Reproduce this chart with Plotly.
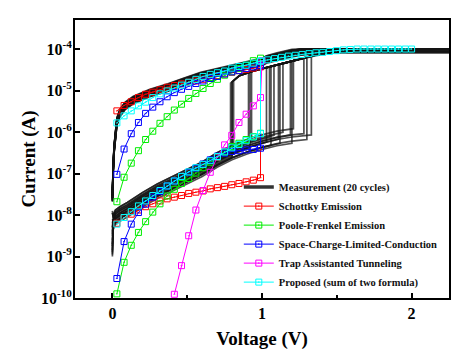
import numpy as np
import plotly.graph_objects as go

# ---------------- data (log10 of current in A) ----------------
# model voltage grid (V)
MODEL_V = [0.030, 0.078, 0.126, 0.174, 0.222, 0.270, 0.318, 0.366, 0.414, 0.462,
           0.510, 0.558, 0.606, 0.654, 0.702, 0.750, 0.798, 0.846, 0.894, 0.942, 0.990]

SCHOTTKY_HRS = [-8.20, -8.06, -7.98, -7.88, -7.80, -7.73, -7.66, -7.61, -7.57, -7.53,
                -7.48, -7.45, -7.42, -7.37, -7.34, -7.31, -7.27, -7.24, -7.20, -7.16, -7.10]
SCHOTTKY_LRS = [-5.49, -5.36, -5.27, -5.17, -5.09, -5.04, -4.98, -4.92, -4.88, -4.84,
                -4.80, -4.77, -4.73, -4.69, -4.64, -4.60, -4.56, -4.52, -4.49, -4.46, -4.43]

PF_HRS = [-9.90, -9.14, -8.73, -8.42, -8.16, -7.93, -7.73, -7.54, -7.38, -7.24,
          -7.12, -6.99, -6.86, -6.73, -6.61, -6.48, -6.35, -6.27, -6.18, -6.11, -6.03]
PF_LRS = [-7.68, -7.09, -6.75, -6.45, -6.18, -5.98, -5.79, -5.63, -5.47, -5.33,
          -5.19, -5.07, -4.95, -4.83, -4.73, -4.63, -4.55, -4.47, -4.39, -4.28, -4.22]

SCLC_HRS = [-9.53, -8.64, -8.22, -7.94, -7.74, -7.57, -7.43, -7.30, -7.18, -7.07,
            -6.97, -6.87, -6.77, -6.67, -6.58, -6.51, -6.47, -6.45, -6.43, -6.42, -6.39]
SCLC_LRS = [-7.02, -6.41, -6.04, -5.77, -5.55, -5.40, -5.27, -5.15, -5.05, -4.97,
            -4.90, -4.83, -4.77, -4.71, -4.66, -4.60, -4.55, -4.52, -4.47, -4.43, -4.40]

TAT_V = [0.414, 0.462, 0.510, 0.558, 0.606, 0.654, 0.702, 0.750, 0.798, 0.846, 0.894, 0.942, 0.990]
TAT_HRS = [-9.91, -9.22, -8.50, -7.88, -7.41, -6.97, -6.60, -6.31, -6.08, -5.77, -5.57, -5.37, -5.17]
TAT_LRS_V = [1.0]
TAT_LRS = [-4.28]

PROP_HRS = [-8.22, -8.06, -7.92, -7.78, -7.66, -7.53, -7.41, -7.30, -7.18, -7.07,
            -6.96, -6.86, -6.78, -6.69, -6.59, -6.48, -6.38, -6.30, -6.21, -6.12, -6.04]
PROP_LRS = [-5.78, -5.61, -5.49, -5.37, -5.28, -5.17, -5.08, -5.01, -4.94, -4.87,
            -4.80, -4.73, -4.66, -4.61, -4.57, -4.53, -4.46, -4.42, -4.39, -4.34, -4.29]
PROP_EXT_V = [0.990, 1.038, 1.084, 1.130, 1.176, 1.222, 1.268, 1.314, 1.360, 1.406, 1.452,
              1.498, 1.544, 1.590, 1.636, 1.682, 1.728, 1.774, 1.820, 1.866, 1.912, 1.958, 2.000]
PROP_EXT = [-4.29, -4.26, -4.23, -4.20, -4.17, -4.15, -4.13, -4.11, -4.09, -4.08, -4.06,
            -4.04, -4.02, -4.01, -4.00, -4.00, -4.00, -4.00, -4.00, -4.00, -4.00, -4.00, -4.00]

# measurement: 20 cycles
HRS_V = [0.005, 0.02, 0.05, 0.1, 0.15, 0.2, 0.3, 0.4, 0.5, 0.6, 0.7, 0.8, 0.9, 1.0, 1.1, 1.2, 1.3]
HRS_BASE = [-8.20, -8.08, -8.00, -7.90, -7.78, -7.66, -7.45, -7.28, -7.10, -6.92, -6.70,
            -6.52, -6.38, -6.27, -6.18, -6.12, -6.08]
HRS_ZERO = [-8.10, -8.90, -7.95, -8.60, -8.30, -9.00, -8.00, -8.45, -8.20, -8.75,
            -7.90, -8.50, -8.85, -8.05, -8.30, -8.95, -7.95, -8.40, -8.70, -8.20]
HRS_OFF = [0.05, -0.08, 0.15, -0.05, 0.10, -0.02, 0.20, 0.00, 0.10, -0.10,
           0.12, 0.00, -0.10, 0.15, 0.05, -0.15, 0.20, 0.05, -0.10, 0.00]
SET_V = [0.79, 0.80, 0.81, 0.80, 0.91, 0.92, 0.93, 1.03, 1.05, 1.06,
         1.08, 1.11, 1.12, 1.14, 1.19, 1.20, 1.21, 1.28, 1.30, 1.33]
SET_LOW = [-6.49, -6.60, -6.36, -6.57, -6.27, -6.38, -6.15, -6.24, -6.13, -6.32,
           -6.08, -6.17, -6.27, -6.01, -6.07, -6.27, -5.92, -6.04, -6.18, -6.07]
SET_HIGH = [-4.82, -4.79, -4.76, -4.79, -4.56, -4.55, -4.54, -4.45, -4.43, -4.42,
            -4.40, -4.38, -4.37, -4.35, -4.30, -4.29, -4.28, -4.21, -4.20, -4.17]
SETB_V = [0.85, 0.95, 1.05, 1.15, 1.25, 1.35, 1.45, 1.55, 1.65, 2.3]
SETB = [-4.64, -4.52, -4.43, -4.34, -4.24, -4.15, -4.08, -4.03, -4.00, -4.00]
LRS_V = [0.0, 0.005, 0.011, 0.018, 0.03, 0.05, 0.085, 0.14, 0.25, 0.37, 0.47, 0.59,
         0.72, 0.86, 1.0, 1.03, 1.1, 1.2, 1.26, 1.35, 1.46, 1.6, 2.3]
LRS = [-7.59, -6.92, -6.43, -6.14, -5.75, -5.54, -5.37, -5.23, -5.06, -4.93, -4.80, -4.65,
       -4.53, -4.42, -4.31, -4.25, -4.18, -4.10, -4.06, -4.03, -4.00, -4.00, -4.00]
LRS_OFF = [0.0, 0.06, -0.07, 0.08, -0.03, 0.04, -0.08, 0.07, 0.01, -0.05,
           0.09, -0.01, 0.05, -0.09, 0.02, 0.0, -0.04, 0.06, -0.06, 0.02]

FONT = "Liberation Serif"

fig = go.Figure()

# ---- measurement cycles ----
hv = np.array(HRS_V)
hb = np.array(HRS_BASE)
sv = np.array(SETB_V)
sb = np.array(SETB)
lv = np.array(LRS_V)
lb = np.array(LRS)
for i in range(20):
    m = hv < SET_V[i]
    ms = sv > SET_V[i]
    x = [0.0] + list(hv[m]) + [SET_V[i], SET_V[i]] + list(sv[ms]) + list(lv[::-1])
    ylog = ([HRS_ZERO[i]] + list(hb[m] + HRS_OFF[i]) + [SET_LOW[i], SET_HIGH[i]] + list(sb[ms])
            + list(np.minimum(lb[::-1] + LRS_OFF[i], -4.0)))
    fig.add_trace(go.Scatter(x=x, y=10 ** np.array(ylog), mode="lines",
                             line=dict(color="rgba(20,20,20,0.75)", width=1.7),
                             showlegend=False, hoverinfo="skip"))
fig.add_trace(go.Scatter(x=[None], y=[None], mode="lines",
                         line=dict(color="#333333", width=3.5),
                         name="<b>Measurement (20 cycles)</b>"))


def model(name, hrs, lrs, color, xs=MODEL_V, lrs_x=None):
    lx = list(lrs_x) if lrs_x is not None else list(xs)[::-1]
    ly = list(lrs) if lrs_x is not None else list(lrs)[::-1]
    fig.add_trace(go.Scatter(
        x=list(xs) + lx, y=10 ** np.array(list(hrs) + ly),
        mode="lines+markers", name=name,
        line=dict(color=color, width=1),
        marker=dict(symbol="square-open-dot", size=6, color=color, line=dict(width=1, color=color))))


model("<b>Schottky Emission</b>", SCHOTTKY_HRS, SCHOTTKY_LRS, "#ff0000")
model("<b>Poole-Frenkel Emission</b>", PF_HRS, PF_LRS, "#00ee00")
model("<b>Space-Charge-Limited-Conduction</b>", SCLC_HRS, SCLC_LRS, "#0000ff")
model("<b>Trap Assistanted Tunneling</b>", TAT_HRS, TAT_LRS, "#ff00ff", xs=TAT_V, lrs_x=TAT_LRS_V)
model("<b>Proposed (sum of two formula)</b>", PROP_HRS, PROP_LRS, "#00ffff")
fig.add_trace(go.Scatter(x=PROP_EXT_V, y=10 ** np.array(PROP_EXT), mode="lines+markers",
                         showlegend=False, line=dict(color="#00ffff", width=1),
                         marker=dict(symbol="square-open-dot", size=6, color="#00ffff",
                                     line=dict(width=1, color="#00ffff"))))

yt = [1e-10, 1e-9, 1e-8, 1e-7, 1e-6, 1e-5, 1e-4]
ytxt = ["<b>10<sup>-10</sup></b>", "<b>10<sup>-9</sup></b>", "<b>10<sup>-8</sup></b>",
        "<b>10<sup>-7</sup></b>", "<b>10<sup>-6</sup></b>", "<b>10<sup>-5</sup></b>",
        "<b>10<sup>-4</sup></b>"]

fig.update_layout(
    width=466, height=360,
    margin=dict(l=75, r=17, t=20, b=62, autoexpand=False),
    paper_bgcolor="white", plot_bgcolor="white",
    font=dict(family=FONT, color="black"),
    showlegend=True,
    legend=dict(x=0.438, y=0.005, xanchor="left", yanchor="bottom", tracegroupgap=0,
                bgcolor="rgba(0,0,0,0)", borderwidth=0,
                font=dict(family=FONT, size=10.5, color="#111111")),
    xaxis=dict(range=[-0.25, 2.25], tickvals=[0, 1, 2], ticktext=["<b>0</b>", "<b>1</b>", "<b>2</b>"],
               ticks="inside", ticklen=5, tickwidth=1.5, tickcolor="black", automargin=False,
               minor=dict(dtick=0.5, tick0=0, ticks="inside", ticklen=3, tickwidth=1.5, tickcolor="black"),
               showline=True, linewidth=2, linecolor="black", mirror=True,
               showgrid=False, zeroline=False,
               tickfont=dict(family=FONT, size=16),
               title=dict(text="<b>Voltage (V)</b>", font=dict(family=FONT, size=19), standoff=10)),
    yaxis=dict(type="log", range=[-10, -3.3], tickvals=yt, ticktext=ytxt, automargin=False,
               ticks="inside", ticklen=5, tickwidth=1.5, tickcolor="black",
               ticklabelstandoff=-2,
               showline=True, linewidth=2, linecolor="black", mirror=True,
               showgrid=False, zeroline=False,
               tickfont=dict(family=FONT, size=16),
               title=dict(text="<b>Current (A)</b>", font=dict(family=FONT, size=19), standoff=0)),
)

fig.write_html("out.html", post_script="document.body.style.margin='0';",
               config={"displayModeBar": False})
